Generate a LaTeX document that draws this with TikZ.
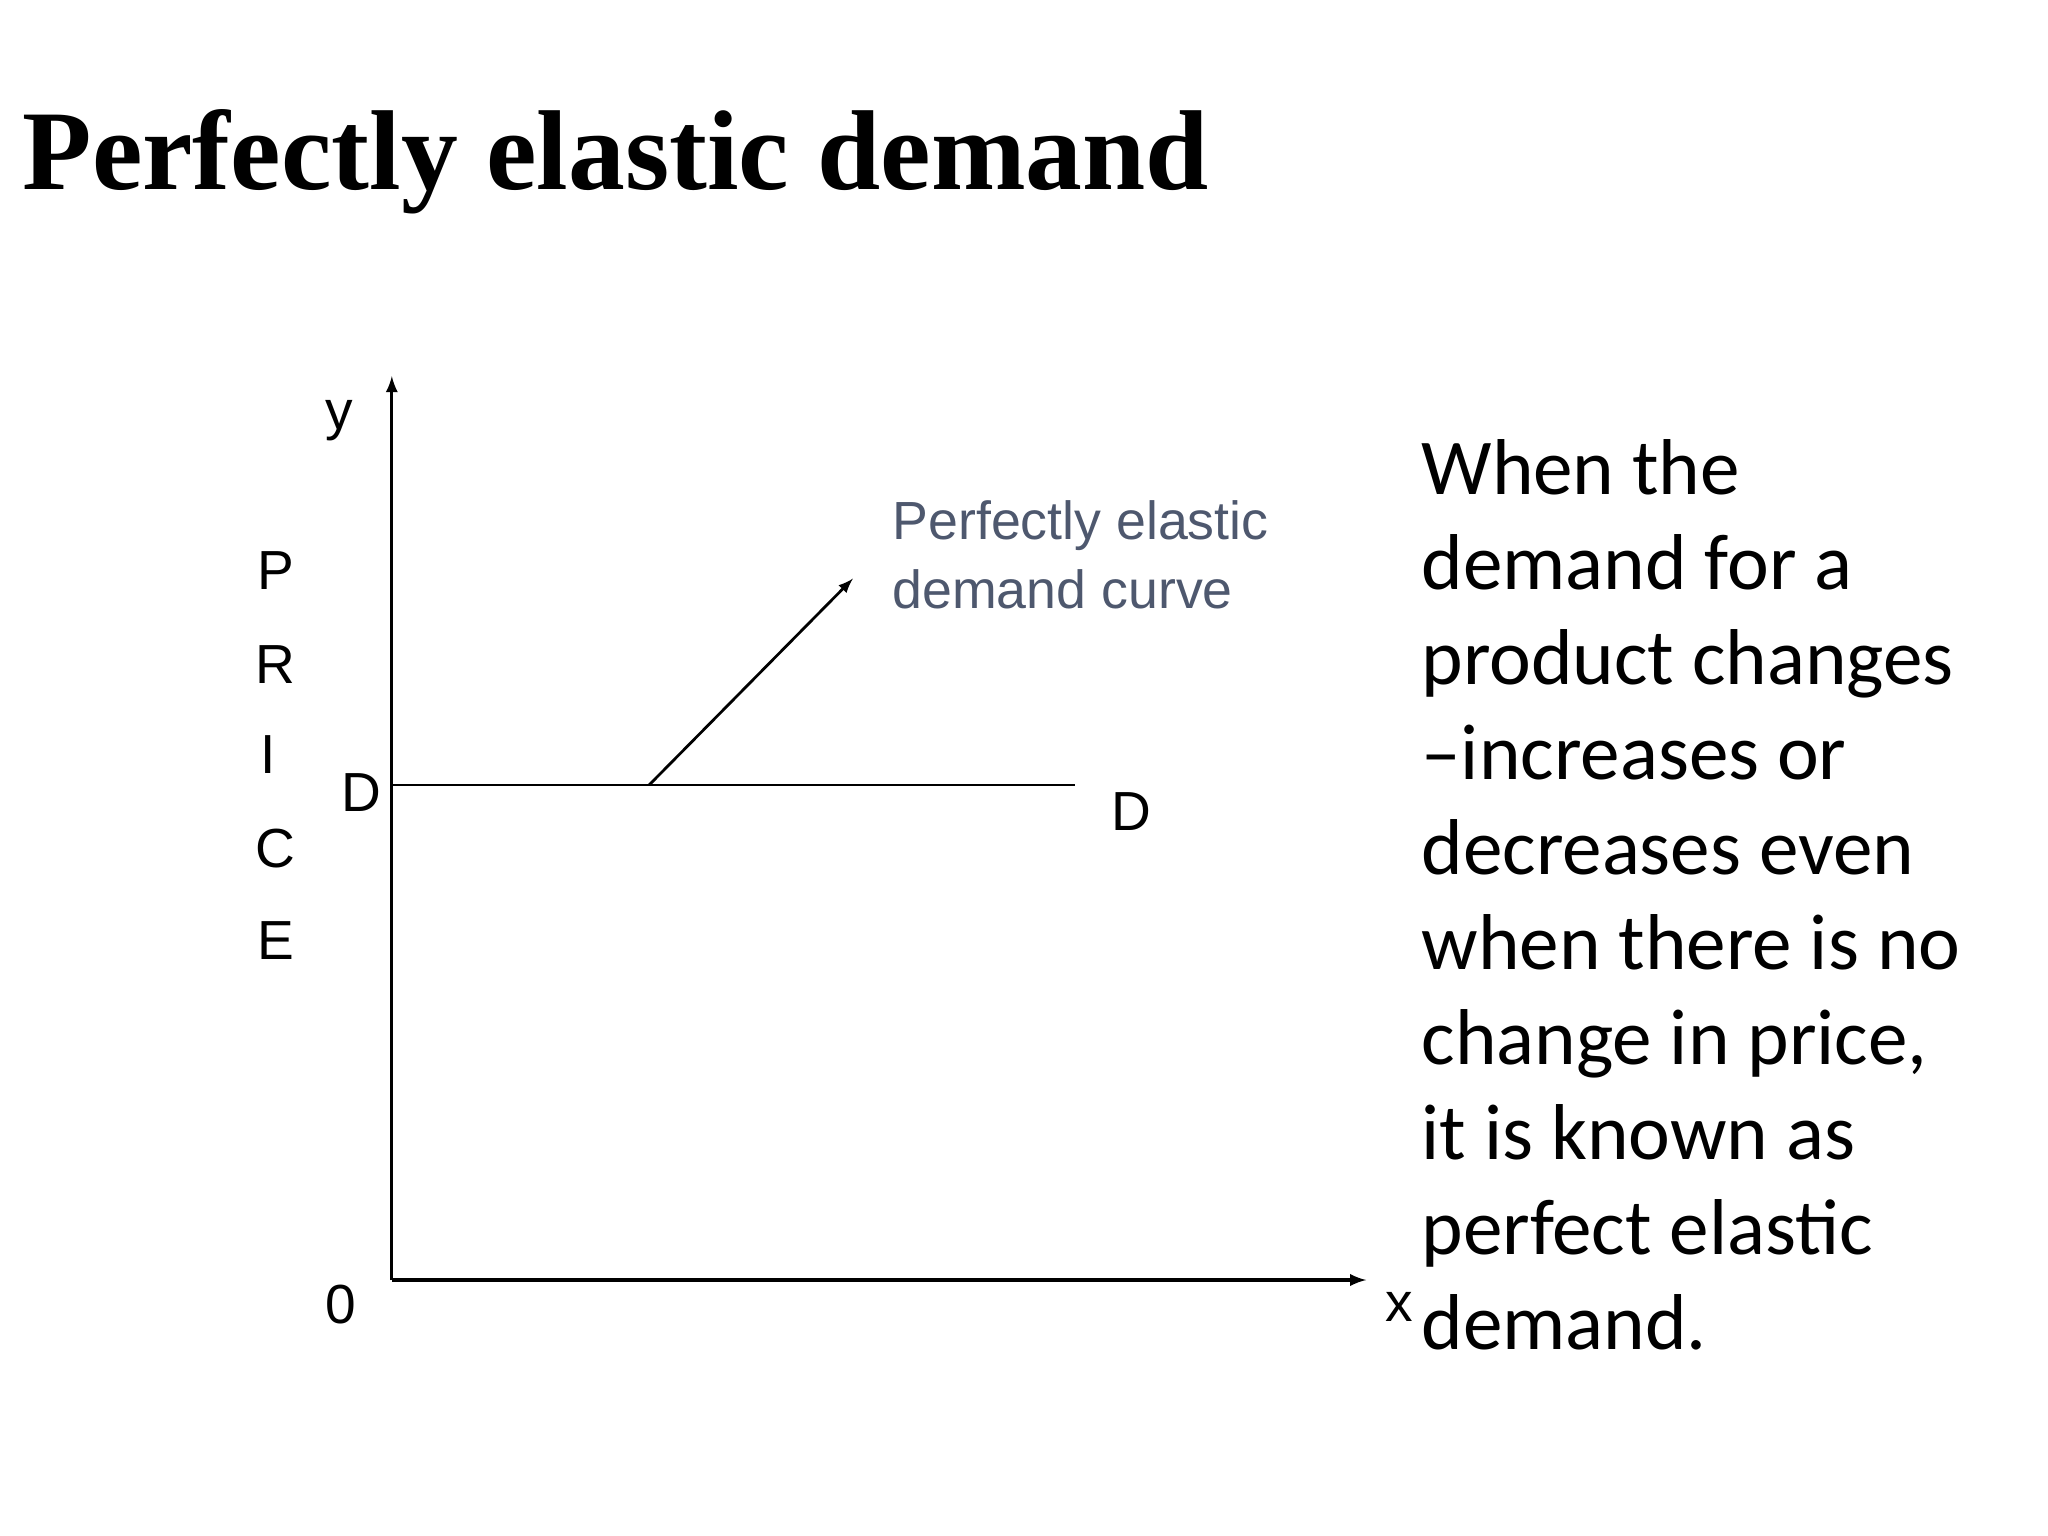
\documentclass[tikz,border=0pt]{standalone}
\usepackage{fontspec}
\setmainfont{Liberation Serif}
\newfontfamily\arialf{Liberation Sans}
\newfontfamily\calf{Carlito}
\definecolor{annot}{RGB}{78,88,110}
\tikzset{
  ax/.style={line width=1.4pt,-latex},
  lab/.style={font=\arialf\fontsize{24}{28}\selectfont,inner sep=0pt},
  ann/.style={font=\arialf\fontsize{23.4}{30}\selectfont,text=annot,align=left,anchor=north west,inner sep=0pt},
  body/.style={font=\calf\fontsize{34.5}{41.4}\selectfont,align=left,anchor=north west,inner sep=0pt}
}
\begin{document}
\begin{tikzpicture}[x=0.02cm,y=-0.02cm]
\useasboundingbox (0,0) rectangle (1568,1176);
\node[anchor=west,inner sep=0pt,font=\bfseries\fontsize{49.5}{58}\selectfont] (title) at (17,124) {Perfectly elastic demand};
\coordinate (o) at (300,980);
\coordinate (ytop) at (300,288);
\coordinate (xend) at (1046,980);
\coordinate (d1) at (300,601);
\coordinate (d2) at (823,601);
\coordinate (as) at (497,601);
\coordinate (ae) at (653,443);
\draw[ax] (o) -- (ytop);
\draw[ax] (o) -- (xend);
\draw[line width=1.2pt] (d1) -- (d2);
\draw[line width=1.2pt,-latex] (as) -- (ae);
\node[lab] (ly) at (260,322) {y};
\node[lab] (lp) at (211,437) {P};
\node[lab] (lr) at (211,509) {R};
\node[lab] (li) at (205,578) {I};
\node[lab] (lc) at (211,650) {C};
\node[lab] (le) at (211,720) {E};
\node[lab] (ld1) at (277,607) {D};
\node[lab] (ld2) at (866,621) {D};
\node[lab] (l0) at (261,999) {0};
\node[lab] (lx) at (1071,1001) {x};
\node[ann] (annt) at (683,383) {Perfectly elastic\\demand curve};
\node[body] (txt) at (1088,336) {When the\\demand for a\\product changes\\–increases or\\decreases even\\when there is no\\change in price,\\it is known as\\perfect elastic\\demand.};
\end{tikzpicture}
\end{document}
